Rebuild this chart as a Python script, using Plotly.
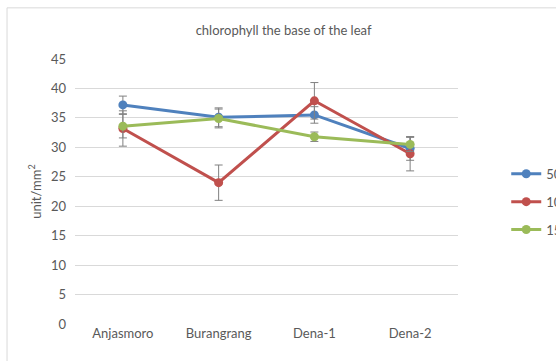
import plotly.graph_objects as go

# Varieties on the x axis
varieties = ["Anjasmoro", "Burangrang", "Dena-1", "Dena-2"]

# Chlorophyll at the base of the leaf (unit/mm2) per treatment, with error
series_names = ["50", "100", "150"]
vals_50 = [37.2, 35.1, 35.5, 29.8]
err_50 = [1.5, 1.6, 1.4, 2.0]
vals_100 = [33.2, 24.0, 37.9, 28.9]
err_100 = [3.0, 3.0, 3.1, 2.9]
vals_150 = [33.6, 34.9, 31.8, 30.5]
err_150 = [2.0, 1.6, 0.8, 1.2]

colors = ["#4F81BD", "#C0504D", "#9BBB59"]
font_fam = "Lato, 'Open Sans', sans-serif"
grey_txt = "#595959"

fig = go.Figure()
for name, v, e, c in zip(series_names, [vals_50, vals_100, vals_150],
                         [err_50, err_100, err_150], colors):
    fig.add_trace(go.Scatter(
        x=varieties, y=v, name=name, legendgroup=name, mode="lines+markers",
        line=dict(color=c, width=3),
        marker=dict(color=c, size=9),
        error_y=dict(type="data", array=e, visible=True,
                     color="#808080", thickness=1, width=4),
    ))

fig.update_layout(
    width=556, height=361,
    margin=dict(l=75, r=98, t=59, b=37, autoexpand=False),
    paper_bgcolor="white", plot_bgcolor="white",
    font=dict(family=font_fam, color=grey_txt, size=13),
    title=dict(text="chlorophyll the base of the leaf",
               x=0.51, xanchor="center", y=0.917, yanchor="middle",
               font=dict(size=13, color=grey_txt, family=font_fam)),
    showlegend=True,
    legend=dict(xref="container", yref="container",
                x=0.9105, xanchor="left", y=0.441, yanchor="middle",
                font=dict(size=13, color=grey_txt, family=font_fam),
                bgcolor="rgba(0,0,0,0)", traceorder="grouped",
                tracegroupgap=8),
    xaxis=dict(showgrid=False, showline=False, zeroline=False,
               range=[-0.5, 3.5], ticks="",
               tickfont=dict(size=13, color=grey_txt)),
    yaxis=dict(range=[0, 45], dtick=5, showgrid=True, gridcolor="#D9D9D9",
               gridwidth=1, zeroline=False, showline=False, ticks="",
               ticklabelstandoff=8,
               tickfont=dict(size=13, color=grey_txt),
               title=dict(text="unit/mm<sup>2</sup>", standoff=6,
                          font=dict(size=13, color=grey_txt))),
    shapes=[dict(type="rect", xref="paper", yref="paper",
                 x0=-0.1775, x1=1.5, y0=-0.5, y1=1.193,
                 line=dict(color="#D9D9D9", width=1), layer="below")],
)

fig.write_html("out.html")
